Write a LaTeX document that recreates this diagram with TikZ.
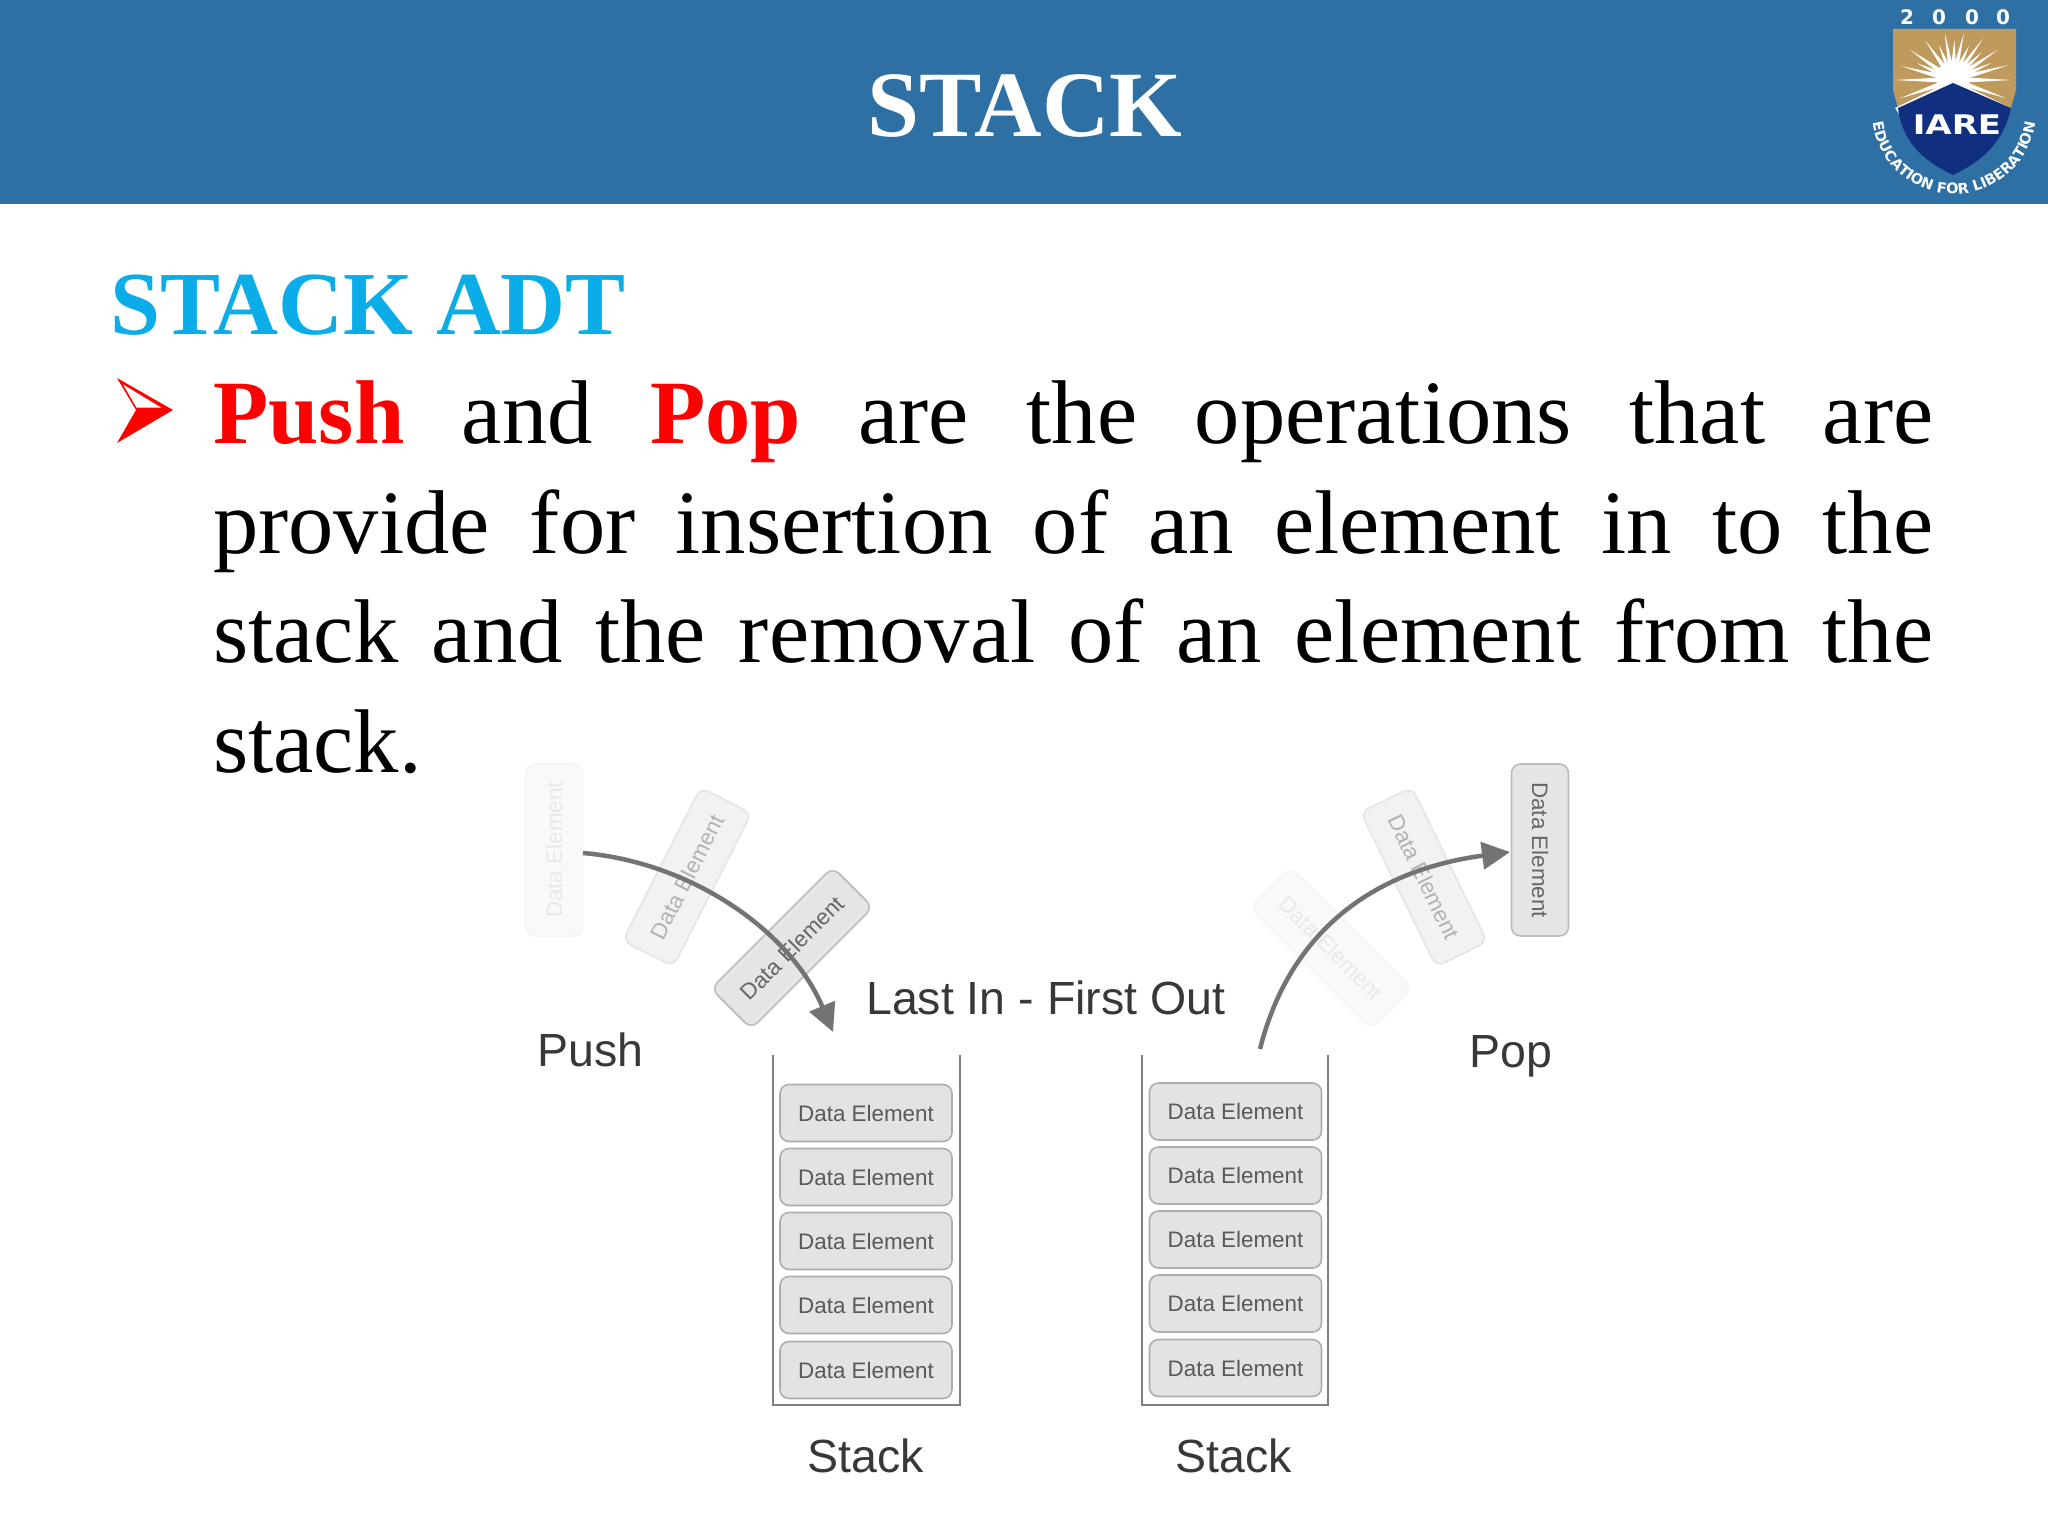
\documentclass[tikz,border=0pt]{standalone}
\usepackage{fontspec}
\setmainfont{Liberation Serif}
\newfontfamily\lsans{Liberation Sans}
\newfontfamily\dsans{DejaVu Sans}
\usetikzlibrary{arrows.meta,decorations.text}
\definecolor{hdr}{HTML}{2E70A4}
\definecolor{cyanT}{HTML}{0BADE8}
\definecolor{gold}{HTML}{BF9A5C}
\definecolor{navy}{HTML}{10307F}
\tikzset{
  x=1pt,y=1pt,
  bodyline/.style={anchor=base west,inner sep=0pt,font=\fontsize{90.5}{90.5}\selectfont},
  lab/.style={anchor=base west,inner sep=0pt,text=black!78,font=\lsans\fontsize{46.5}{46.5}\selectfont},
  elem/.style={draw=black!32,line width=1.6pt,fill=black!11,rounded corners=9pt,minimum width=172pt,minimum height=57pt,inner sep=0pt,text=black!65,font=\lsans\fontsize{22.4}{22.4}\selectfont},
  ghostA/.style={elem,draw=black!4,fill=black!2.5,text=black!9},
  ghostB/.style={elem,draw=black!10,fill=black!5,text=black!30},
  ghostC/.style={elem,draw=black!26,fill=black!10,text=black!60},
  wall/.style={draw=black!50,line width=2.4pt},
  flow/.style={draw=black!55,line width=4.5pt,-{Triangle[length=28pt,width=27pt]}}
}
\newcommand{\jline}[3]{\node[bodyline] (#1) at (213,#2) {\hbox to 1720pt{#3}};}
\newcommand{\gp}{\hfil}
\begin{document}
\begin{tikzpicture}
\useasboundingbox (0,0) rectangle (2048,-1536);
\fill[white] (0,0) rectangle (2048,-1536);
\fill[hdr] (0,0) rectangle (2048,-204);
\node[anchor=base,inner sep=0pt,text=white,font=\bfseries\fontsize{93.5}{93.5}\selectfont] (title) at (1025,-136) {STACK};
% logo
\fill[gold] (1893,-29) -- (2016,-29) -- (2016,-90) -- (2011,-108) -- (1953,-175) -- (1898,-108) -- (1893,-90) -- cycle;
\begin{scope}[shift={(1953,-80)}]
 \foreach \a/\r in {180/58,165/54,145/53,125/48,100/47,77/48,54/51,34/54,15/58,0/59,199/57,341/56,155/40,112/38,88/40,65/38,44/40,24/42}
  \fill[white] (\a-9:15) -- (\a:\r) -- (\a+9:15) -- cycle;
 \fill[white] (0,2) circle (17);
\end{scope}
\fill[white] (1953,-80) -- (2011,-108) -- (2006,-114) -- (1899,-114) -- (1895,-108) -- cycle;
\fill[navy] (1953,-83) -- (2011,-108) .. controls (2004,-140) and (1985,-160) .. (1953,-175) .. controls (1921,-160) and (1902,-140) .. (1898,-108) -- cycle;
\node[anchor=base,inner sep=0pt,text=white,font=\dsans\bfseries\fontsize{27}{27}\selectfont] (iare) at (1957,-135) {\scalebox{1.26}[1]{IARE}};
\foreach \n/\xx/\d in {a/1907/2,b/1939/0,c/1972/0,d/2003/0}
 \node[anchor=base,inner sep=0pt,text=white,font=\dsans\bfseries\fontsize{20}{20}\selectfont] (yr\n) at (\xx,-25) {\d};
\path[decorate,decoration={text along path,text align=center,text color=white,text={|\dsans\bfseries\fontsize{14.5}{14.5}\selectfont|EDUCATION FOR LIBERATION}}]
  (1954,-112) ++(176:82) arc[start angle=176,end angle=364,radius=82];
% headings
\node[anchor=base west,inner sep=0pt,text=cyanT,font=\bfseries\fontsize{90}{90}\selectfont] (adt) at (110,-334) {STACK ADT};
% bullet
\fill[red] (117,-378) -- (173,-410) -- (117,-443) -- (136,-410) -- cycle;
\fill[white] (123,-384.5) -- (161,-407.5) -- (136.5,-407.5) -- cycle;
\jline{l1}{-443}{\textcolor{red}{\bfseries Push}\gp and\gp \textcolor{red}{\bfseries Pop}\gp are\gp the\gp operations\gp that\gp are}
\jline{l2}{-553}{provide\gp for\gp insertion\gp of\gp an\gp element\gp in\gp to\gp the}
\jline{l3}{-662}{stack\gp and\gp the\gp removal\gp of\gp an\gp element\gp from\gp the}
\node[bodyline] (l4) at (213,-772) {stack.};
% moving elements
\node[ghostA,rotate=90] (pa) at (554,-850) {Data Element};
\node[ghostB,rotate=63] (pb) at (687,-877) {Data Element};
\node[ghostC,rotate=45] (pc) at (792,-948) {Data Element};
\node[ghostC,rotate=-90] (qa) at (1540,-850) {Data Element};
\node[ghostB,rotate=-64] (qb) at (1424,-877) {Data Element};
\node[ghostA,rotate=-45] (qc) at (1331,-948) {Data Element};
% stacks
\draw[wall] (773,-1055) -- (773,-1405) -- (960,-1405) -- (960,-1055);
\draw[wall] (1142,-1055) -- (1142,-1405) -- (1328,-1405) -- (1328,-1055);
\foreach \i/\ya/\yb in {1/1113/1111.5,2/1177/1175.5,3/1241/1239.5,4/1305/1303.5,5/1370/1368}{
 \node[elem] (s\i) at (866,-\ya) {Data Element};
 \node[elem] (t\i) at (1235.5,-\yb) {Data Element};
}
% arrows
\coordinate (pushS) at (583,-853);
\coordinate (pushE) at (833,-1032);
\coordinate (popS) at (1260,-1049);
\coordinate (popE) at (1510,-852);
\draw[flow] (pushS) .. controls (690,-862) and (790,-930) .. (pushE);
\draw[flow] (popS) .. controls (1290,-930) and (1375,-870) .. (popE);
% labels
\node[lab] (lifo) at (866,-1014) {Last In - First Out};
\node[lab] (push) at (537,-1066) {Push};
\node[lab] (pop) at (1469,-1067) {Pop};
\node[lab] (sa) at (807,-1472) {Stack};
\node[lab] (sb) at (1175,-1472) {Stack};
\end{tikzpicture}
\end{document}
